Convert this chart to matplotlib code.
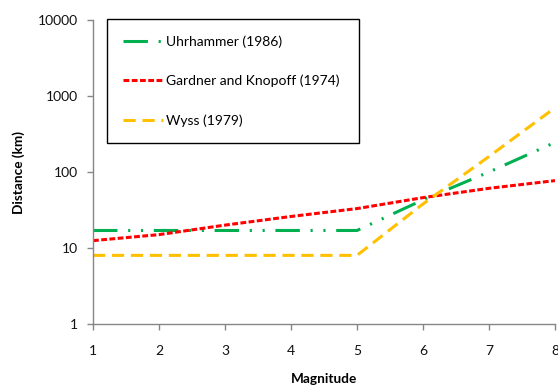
import numpy as np
import matplotlib
matplotlib.use('Agg')
import matplotlib.pyplot as plt
from matplotlib.ticker import NullLocator

plt.rcParams['font.family'] = ['Lato', 'DejaVu Sans']

magnitude = [1, 2, 3, 4, 5, 6, 7, 8]
uhrhammer = [17, 17, 17, 17, 17, 43, 100, 245]
gardner_knopoff = [12.5, 15, 20, 26, 33, 46, 61, 77]
wyss = [8, 8, 8, 8, 8, 38, 160, 700]

y_ticks = [1, 10, 100, 1000, 10000]
y_tick_labels = ['1', '10', '100', '1000', '10000']

fig = plt.figure(figsize=(5.58, 3.9), dpi=100)
ax = fig.add_axes([93 / 558, 1 - 324 / 390, 462 / 558, 304 / 390])

lw = 2.2
ax.plot(magnitude, uhrhammer, color='#00B050', lw=lw,
        dashes=(8, 3.5, 0.7, 3.5, 0.7, 3.5), label='Uhrhammer (1986)')
ax.plot(magnitude, gardner_knopoff, color='#FF0000', lw=lw,
        dashes=(1.9, 0.8), label='Gardner and Knopoff (1974)')
ax.plot(magnitude, wyss, color='#FFC000', lw=lw,
        dashes=(4.0, 2.2), label='Wyss (1979)')

ax.set_yscale('log')
ax.set_xlim(1, 8)
ax.set_ylim(1, 10000)
ax.set_yticks(y_ticks)
ax.set_yticklabels(y_tick_labels)
ax.yaxis.set_minor_locator(NullLocator())
ax.set_xticks(magnitude)
ax.set_xticklabels([str(m) for m in magnitude])

for side in ['top', 'right']:
    ax.spines[side].set_visible(False)
for side in ['left', 'bottom']:
    ax.spines[side].set_color('#868686')
    ax.spines[side].set_linewidth(1)

ax.tick_params(axis='both', direction='out', length=4.3, width=1,
               color='#868686', labelsize=10, labelcolor='#111111')
ax.tick_params(axis='y', pad=6.5)
ax.tick_params(axis='x', pad=10.5)

ax.set_xlabel('Magnitude', fontsize=9.8, fontweight='bold', labelpad=12)
ax.set_ylabel('Distance (km)', fontsize=9.8, fontweight='bold', labelpad=9)

leg = ax.legend(loc='upper left', bbox_to_anchor=(0.0303, 0.602, 0.5455, 0.401),
                mode='expand', borderaxespad=0, fontsize=10, frameon=True,
                fancybox=False, edgecolor='black', framealpha=1,
                labelspacing=1.95, borderpad=1.15, handlelength=2.9,
                handletextpad=0.2)
leg.get_frame().set_linewidth(1)

fig.savefig('out.png', dpi=100)
